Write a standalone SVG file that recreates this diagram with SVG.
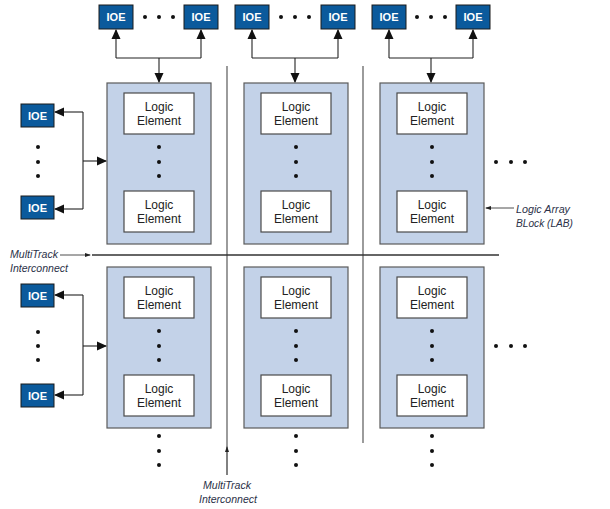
<svg xmlns="http://www.w3.org/2000/svg" width="610" height="509" viewBox="0 0 610 509">
<style>
.ioe{fill:#0b5a9c;stroke:#1a1a1a;stroke-width:1}
.ioet{font-family:"Liberation Sans",Arial,sans-serif;font-weight:bold;font-size:11px;fill:#fff;text-anchor:middle}
.lab{fill:#c3d2e8;stroke:#5a5a5a;stroke-width:1.2}
.le{fill:#fff;stroke:#4a4a4a;stroke-width:1.2}
.let{font-family:"Liberation Sans",Arial,sans-serif;font-size:12px;fill:#222;text-anchor:middle}
.ann{font-family:"Liberation Sans Narrow","Liberation Sans",Arial,sans-serif;font-style:italic;font-size:11.5px;fill:#2b3148}
.w{stroke:#222;stroke-width:1.1;fill:none}
.g{stroke:#666;stroke-width:1.3;fill:none}
.d{fill:#111}
</style>
<defs>
<marker id="ah" markerWidth="10" markerHeight="10" refX="9" refY="5" orient="auto" markerUnits="userSpaceOnUse">
<path d="M0,0.5 L10,5 L0,9.5 Z" fill="#111"/>
</marker>
<marker id="sa" markerWidth="6" markerHeight="6" refX="5" refY="3" orient="auto" markerUnits="userSpaceOnUse">
<path d="M0,1 L6,3 L0,5 Z" fill="#222"/>
</marker>
</defs>

<g id="interconnect-lines">
<line class="g" x1="227" y1="66" x2="227" y2="475"/>
<line class="g" x1="363" y1="66" x2="363" y2="443"/>
<line x1="92" y1="255" x2="499" y2="255" stroke="#333" stroke-width="1.3"/>
</g>

<g id="lab-1-1"><rect class="lab" x="107" y="83" width="104" height="161"/>
<rect class="le" x="124" y="93" width="70" height="41"/><text class="let" x="159" y="111">Logic</text><text class="let" x="159" y="125">Element</text>
<circle class="d" cx="159" cy="147" r="2"/><circle class="d" cx="159" cy="162" r="2"/><circle class="d" cx="159" cy="176" r="2"/>
<rect class="le" x="124" y="191" width="70" height="41"/><text class="let" x="159" y="209">Logic</text><text class="let" x="159" y="223">Element</text></g>
<g id="lab-1-2"><rect class="lab" x="244" y="83" width="104" height="161"/>
<rect class="le" x="261" y="93" width="70" height="41"/><text class="let" x="296" y="111">Logic</text><text class="let" x="296" y="125">Element</text>
<circle class="d" cx="296" cy="147" r="2"/><circle class="d" cx="296" cy="162" r="2"/><circle class="d" cx="296" cy="176" r="2"/>
<rect class="le" x="261" y="191" width="70" height="41"/><text class="let" x="296" y="209">Logic</text><text class="let" x="296" y="223">Element</text></g>
<g id="lab-1-3"><rect class="lab" x="380" y="83" width="104" height="161"/>
<rect class="le" x="397" y="93" width="70" height="41"/><text class="let" x="432" y="111">Logic</text><text class="let" x="432" y="125">Element</text>
<circle class="d" cx="432" cy="147" r="2"/><circle class="d" cx="432" cy="162" r="2"/><circle class="d" cx="432" cy="176" r="2"/>
<rect class="le" x="397" y="191" width="70" height="41"/><text class="let" x="432" y="209">Logic</text><text class="let" x="432" y="223">Element</text></g>

<g id="lab-2-1"><rect class="lab" x="107" y="267" width="104" height="161"/>
<rect class="le" x="124" y="277" width="70" height="41"/><text class="let" x="159" y="295">Logic</text><text class="let" x="159" y="309">Element</text>
<circle class="d" cx="159" cy="331" r="2"/><circle class="d" cx="159" cy="346" r="2"/><circle class="d" cx="159" cy="360" r="2"/>
<rect class="le" x="124" y="375" width="70" height="41"/><text class="let" x="159" y="393">Logic</text><text class="let" x="159" y="407">Element</text></g>
<g id="lab-2-2"><rect class="lab" x="244" y="267" width="104" height="161"/>
<rect class="le" x="261" y="277" width="70" height="41"/><text class="let" x="296" y="295">Logic</text><text class="let" x="296" y="309">Element</text>
<circle class="d" cx="296" cy="331" r="2"/><circle class="d" cx="296" cy="346" r="2"/><circle class="d" cx="296" cy="360" r="2"/>
<rect class="le" x="261" y="375" width="70" height="41"/><text class="let" x="296" y="393">Logic</text><text class="let" x="296" y="407">Element</text></g>
<g id="lab-2-3"><rect class="lab" x="380" y="267" width="104" height="161"/>
<rect class="le" x="397" y="277" width="70" height="41"/><text class="let" x="432" y="295">Logic</text><text class="let" x="432" y="309">Element</text>
<circle class="d" cx="432" cy="331" r="2"/><circle class="d" cx="432" cy="346" r="2"/><circle class="d" cx="432" cy="360" r="2"/>
<rect class="le" x="397" y="375" width="70" height="41"/><text class="let" x="432" y="393">Logic</text><text class="let" x="432" y="407">Element</text></g>

<g id="ioe-top">
<rect class="ioe" x="99" y="5" width="34" height="24"/><text class="ioet" x="116" y="21">IOE</text>
<rect class="ioe" x="184" y="5" width="34" height="24"/><text class="ioet" x="201" y="21">IOE</text>
<rect class="ioe" x="235" y="5" width="34" height="24"/><text class="ioet" x="252" y="21">IOE</text>
<rect class="ioe" x="321" y="5" width="34" height="24"/><text class="ioet" x="338" y="21">IOE</text>
<rect class="ioe" x="372" y="5" width="34" height="24"/><text class="ioet" x="389" y="21">IOE</text>
<rect class="ioe" x="456" y="5" width="34" height="24"/><text class="ioet" x="473" y="21">IOE</text>
</g>
<g id="ioe-left">
<rect class="ioe" x="21" y="104" width="33" height="23"/><text class="ioet" x="37.5" y="120">IOE</text>
<rect class="ioe" x="21" y="196" width="33" height="23"/><text class="ioet" x="37.5" y="212">IOE</text>
<rect class="ioe" x="21" y="284" width="33" height="23"/><text class="ioet" x="37.5" y="300">IOE</text>
<rect class="ioe" x="21" y="384" width="33" height="23"/><text class="ioet" x="37.5" y="400">IOE</text>
</g>

<g id="ellipses">
<circle class="d" cx="145" cy="17" r="2"/><circle class="d" cx="159" cy="17" r="2"/><circle class="d" cx="173" cy="17" r="2"/>
<circle class="d" cx="281" cy="17" r="2"/><circle class="d" cx="295" cy="17" r="2"/><circle class="d" cx="309" cy="17" r="2"/>
<circle class="d" cx="417" cy="17" r="2"/><circle class="d" cx="431" cy="17" r="2"/><circle class="d" cx="445" cy="17" r="2"/>
<circle class="d" cx="38" cy="147" r="2"/><circle class="d" cx="38" cy="162" r="2"/><circle class="d" cx="38" cy="176" r="2"/>
<circle class="d" cx="38" cy="332" r="2"/><circle class="d" cx="38" cy="346" r="2"/><circle class="d" cx="38" cy="360" r="2"/>
<circle class="d" cx="496" cy="162" r="2"/><circle class="d" cx="511" cy="162" r="2"/><circle class="d" cx="525" cy="162" r="2"/>
<circle class="d" cx="496" cy="346" r="2"/><circle class="d" cx="511" cy="346" r="2"/><circle class="d" cx="525" cy="346" r="2"/>
<circle class="d" cx="159" cy="436" r="2"/><circle class="d" cx="159" cy="451" r="2"/><circle class="d" cx="159" cy="465" r="2"/>
<circle class="d" cx="296" cy="436" r="2"/><circle class="d" cx="296" cy="451" r="2"/><circle class="d" cx="296" cy="465" r="2"/>
<circle class="d" cx="432" cy="436" r="2"/><circle class="d" cx="432" cy="451" r="2"/><circle class="d" cx="432" cy="465" r="2"/>
</g>

<g id="connectors">
<path class="w" d="M116,58 H201"/>
<path class="w" d="M116,58 V30" marker-end="url(#ah)"/>
<path class="w" d="M201,58 V30" marker-end="url(#ah)"/>
<path class="w" d="M159,58 V82" marker-end="url(#ah)"/>
<path class="w" d="M252,58 H338"/>
<path class="w" d="M252,58 V30" marker-end="url(#ah)"/>
<path class="w" d="M338,58 V30" marker-end="url(#ah)"/>
<path class="w" d="M295,58 V82" marker-end="url(#ah)"/>
<path class="w" d="M389,58 H473"/>
<path class="w" d="M389,58 V30" marker-end="url(#ah)"/>
<path class="w" d="M473,58 V30" marker-end="url(#ah)"/>
<path class="w" d="M431,58 V82" marker-end="url(#ah)"/>
<path class="w" d="M83,112 V209"/>
<path class="w" d="M83,112 H55" marker-end="url(#ah)"/>
<path class="w" d="M83,209 H55" marker-end="url(#ah)"/>
<path class="w" d="M83,161 H106" marker-end="url(#ah)"/>
<path class="w" d="M83,295 V395"/>
<path class="w" d="M83,295 H55" marker-end="url(#ah)"/>
<path class="w" d="M83,395 H55" marker-end="url(#ah)"/>
<path class="w" d="M83,346 H106" marker-end="url(#ah)"/>
<path d="M60,255 H90" stroke="#222" stroke-width="0.8" marker-end="url(#sa)"/>
<path d="M227,475 V447" stroke="#666" stroke-width="1" marker-end="url(#sa)"/>
<path d="M514,208 H486" stroke="#222" stroke-width="0.8" marker-end="url(#sa)"/>
</g>

<g id="labels">
<text class="ann" x="10" y="258" textLength="48" lengthAdjust="spacingAndGlyphs">MultiTrack</text>
<text class="ann" x="10" y="272" textLength="58" lengthAdjust="spacingAndGlyphs">Interconnect</text>
<text class="ann" x="516" y="213" textLength="54" lengthAdjust="spacingAndGlyphs">Logic Array</text>
<text class="ann" x="516" y="227" textLength="57" lengthAdjust="spacingAndGlyphs">BLock (LAB)</text>
<text class="ann" x="203" y="489" textLength="48" lengthAdjust="spacingAndGlyphs">MultiTrack</text>
<text class="ann" x="199" y="503" textLength="58" lengthAdjust="spacingAndGlyphs">Interconnect</text>
</g>
</svg>
